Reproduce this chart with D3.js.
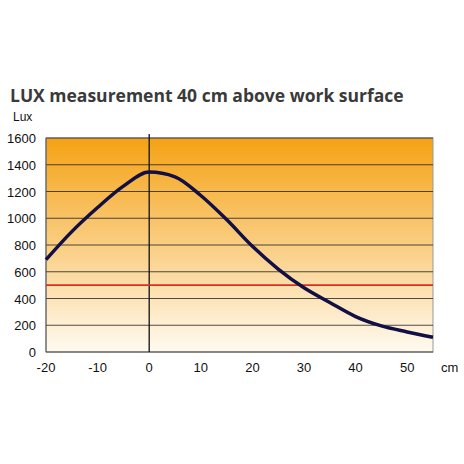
<!DOCTYPE html><html><head><script src="https://d3js.org/d3.v7.min.js"></script>
<style>body{margin:0;background:#fff}</style></head><body><svg width="464" height="464"></svg>
<script>
const xs=[-20,-15,-10,-5,0,5,10,15,20,25,30,35,40,45,50,55];
const lux=[690,900,1080,1240,1345,1310,1170,990,790,620,480,370,265,195,150,110];
const xTicks=[-20,-10,0,10,20,30,40,50];
const yTicks=[0,200,400,600,800,1000,1200,1400,1600];
const threshold=500;
const svg=d3.select("svg");
const x=d3.scaleLinear().domain([-20,55]).range([46,433]);
const y=d3.scaleLinear().domain([0,1600]).range([352,138]);
const g=svg.append("defs").append("linearGradient").attr("id","bg").attr("x1",0).attr("y1",0).attr("x2",0).attr("y2",1);
g.append("stop").attr("offset",0).attr("stop-color","#f5a214");
g.append("stop").attr("offset",1).attr("stop-color","#fffaf0");
svg.append("rect").attr("x",46).attr("y",138).attr("width",387).attr("height",214).attr("fill","url(#bg)").attr("stroke","#999");
yTicks.forEach(t=>{svg.append("line").attr("x1",46).attr("x2",433).attr("y1",y(t)).attr("y2",y(t)).attr("stroke","#222").attr("stroke-width",0.8);
svg.append("text").attr("x",36).attr("y",y(t)+5).attr("text-anchor","end").attr("font-family","Liberation Sans").attr("font-size",13).attr("fill","#111").text(t);});
xTicks.forEach(t=>svg.append("text").attr("x",x(t)).attr("y",372).attr("text-anchor","middle").attr("font-family","Liberation Sans").attr("font-size",13).attr("fill","#111").text(t));
svg.append("line").attr("x1",46).attr("x2",46).attr("y1",138).attr("y2",352).attr("stroke","#555");
svg.append("line").attr("x1",x(0)).attr("x2",x(0)).attr("y1",134).attr("y2",352).attr("stroke","#111").attr("stroke-width",1.3);
svg.append("line").attr("x1",46).attr("x2",433).attr("y1",y(threshold)).attr("y2",y(threshold)).attr("stroke","#d9301c").attr("stroke-width",1.6);
svg.append("path").datum(xs.map((v,i)=>[v,lux[i]])).attr("d",d3.line().x(d=>x(d[0])).y(d=>y(d[1])).curve(d3.curveMonotoneX))
 .attr("fill","none").attr("stroke","#120f45").attr("stroke-width",3.5);
svg.append("text").attr("x",10).attr("y",102).attr("font-family","Open Sans").attr("font-weight","bold").attr("font-size",17.5).attr("fill","#3a3a3a").text("LUX measurement 40 cm above work surface");
svg.append("text").attr("x",13).attr("y",121).attr("font-family","Liberation Sans").attr("font-size",12).attr("fill","#111").text("Lux");
svg.append("text").attr("x",441).attr("y",372).attr("font-family","Liberation Sans").attr("font-size",13).attr("fill","#111").text("cm");
</script></body></html>
